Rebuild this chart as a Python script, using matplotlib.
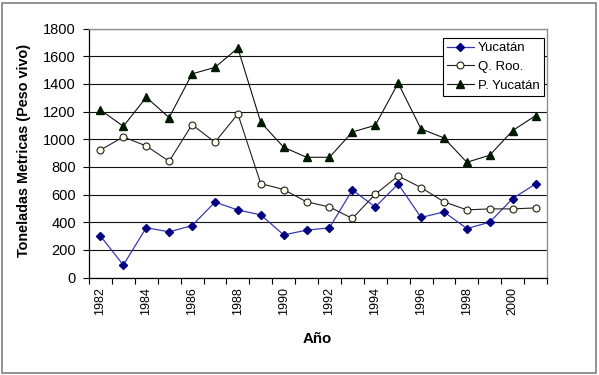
import matplotlib
matplotlib.use("Agg")
import matplotlib.pyplot as plt
from matplotlib.patches import Rectangle

years = list(range(1982, 2002))
yucatan = [300, 90, 360, 330, 375, 545, 488, 453, 308, 342, 359, 633, 510, 676, 434, 474, 354, 400, 571, 676]
q_roo = [922, 1016, 951, 840, 1105, 978, 1182, 679, 636, 547, 510, 427, 602, 734, 650, 547, 489, 496, 496, 503]
p_yucatan = [1211, 1093, 1303, 1156, 1472, 1519, 1658, 1122, 942, 869, 869, 1052, 1100, 1405, 1074, 1009, 833, 884, 1062, 1170]
series_names = ["Yucatán", "Q. Roo.", "P. Yucatán"]
y_ticks = list(range(0, 2000, 200))

plt.rcParams['font.family'] = ['Liberation Sans', 'DejaVu Sans']

W, H = 599, 375
fig = plt.figure(figsize=(W / 100, H / 100), dpi=100)
fig.patch.set_facecolor('white')
fig.patches.append(Rectangle((2 / W, 2 / H), 594 / W, 370 / H, transform=fig.transFigure,
                             fill=False, edgecolor='#808080', linewidth=1.2))

left, right, top, bottom = 89, 547, 28.5, 277.5
ax = fig.add_axes([left / W, 1 - bottom / H, (right - left) / W, (bottom - top) / H])

x = list(range(len(years)))
ax.plot(x, yucatan, color='#3a3ab0', linewidth=0.9, marker='D', markersize=4.5,
        markerfacecolor='#000080', markeredgecolor='#000080', label=series_names[0], zorder=3)
ax.plot(x, q_roo, color='#202020', linewidth=0.8, marker='o', markersize=5,
        markerfacecolor='#ffffee', markeredgecolor='#202020', markeredgewidth=0.8,
        label=series_names[1], zorder=3)
ax.plot(x, p_yucatan, color='#101010', linewidth=0.8, marker='^', markersize=6,
        markerfacecolor='#001a00', markeredgecolor='#001a00', label=series_names[2], zorder=3)

ax.set_xlim(-0.5, len(years) - 0.5)
ax.set_ylim(0, 1800)
ax.set_yticks(y_ticks)
ax.set_yticklabels([str(v) for v in y_ticks], fontsize=10.5)
ax.yaxis.grid(True, color='#111111', linewidth=0.8)
ax.set_axisbelow(True)

ax.set_xticks([i - 0.5 for i in range(len(years) + 1)])
ax.set_xticklabels([])
ax.set_xticks(x[::2], minor=True)
ax.set_xticklabels([str(y) for y in years[::2]], minor=True, rotation=90, fontsize=9)
ax.tick_params(axis='x', which='major', direction='out', length=4, width=0.8, color='black')
ax.tick_params(axis='x', which='minor', length=0, pad=7)
ax.tick_params(axis='y', direction='out', length=4, width=0.8, color='black', pad=5.5)

for s in ['left', 'bottom']:
    ax.spines[s].set_color('black')
    ax.spines[s].set_linewidth(0.9)
for s in ['top', 'right']:
    ax.spines[s].set_color('#909090')
    ax.spines[s].set_linewidth(1.0)

fig.text(24 / W, 1 - 150.5 / H, "Toneladas Metricas (Peso vivo)", rotation=90,
         ha='center', va='center', fontsize=10.4, fontweight='bold')
fig.text(317 / W, 1 - 339 / H, "Año", ha='center', va='center', fontsize=10.8, fontweight='bold')

leg = ax.legend(loc='upper left', bbox_to_anchor=((443 - left) / (right - left), (bottom - 38) / (bottom - top)),
                fontsize=9.5, frameon=True, fancybox=False, edgecolor='black', framealpha=1,
                handlelength=2.0, borderpad=0.32, labelspacing=0.48, handletextpad=0.35,
                borderaxespad=0)
leg.get_frame().set_linewidth(0.8)

fig.savefig("out.png", dpi=100, facecolor='white')
